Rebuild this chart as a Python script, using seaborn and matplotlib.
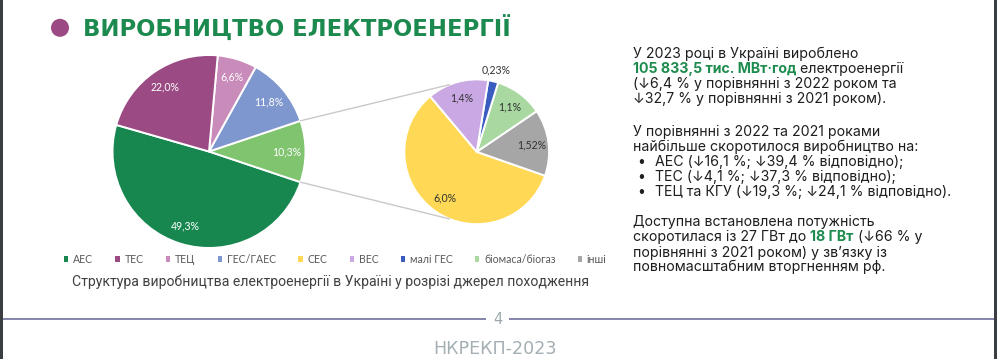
import matplotlib
matplotlib.use("Agg")
import numpy as np
import pandas as pd
import matplotlib.pyplot as plt
import seaborn as sns
from matplotlib.patches import ConnectionPatch, Circle, Rectangle, Patch

sns.set_theme(style="white")
plt.rcParams['font.family'] = ['DejaVu Sans']

# ---------------- data ----------------
main_labels = ["АЕС", "інші ВДЕ", "ГЕС/ГАЕС", "ТЕЦ", "ТЕС"]
main_values = [49.3, 10.3, 11.8, 6.6, 22.0]
main_text = ["49,3%", "10,3%", "11,8%", "6,6%", "22,0%"]

sub_labels = ["СЕС", "інші", "біомаса/біогаз", "малі ГЕС", "ВЕС"]
sub_values = [6.0, 1.52, 1.1, 0.23, 1.4]
sub_text = ["6,0%", "1,52%", "1,1%", "0,23%", "1,4%"]

legend_order = ["АЕС", "ТЕС", "ТЕЦ", "ГЕС/ГАЕС", "СЕС", "ВЕС", "малі ГЕС",
                "біомаса/біогаз", "інші"]

palette = {
    "АЕС": "#17874f", "ТЕС": "#9b4a83", "ТЕЦ": "#c98bba", "ГЕС/ГАЕС": "#7f97cf",
    "інші ВДЕ": "#80c46f", "СЕС": "#ffd955", "ВЕС": "#caa8e4", "малі ГЕС": "#3a5cbf",
    "біомаса/біогаз": "#a9d9a1", "інші": "#a6a6a6",
}

W, H = 997, 359
fig = plt.figure(figsize=(W / 100, H / 100), dpi=100)
fig.patch.set_facecolor("white")

# background axes in pixel coordinates
bg = fig.add_axes([0, 0, 1, 1])
bg.set_xlim(0, W)
bg.set_ylim(H, 0)
bg.axis("off")


def px_axes(cx, cy, r):
    return fig.add_axes([(cx - r) / W, (H - cy - r) / H, 2 * r / W, 2 * r / H])


label_font = ['Lato', 'DejaVu Sans']

# ---------------- main pie ----------------
ax1 = px_axes(209, 151.5, 96.5)
wedges1, _ = ax1.pie(main_values, colors=[palette[l] for l in main_labels],
                     startangle=164, counterclock=True,
                     wedgeprops=dict(edgecolor="white", linewidth=1.4))
ax1.set_xlim(-1, 1); ax1.set_ylim(-1, 1); ax1.set_aspect("equal")
for w, t in zip(wedges1, main_text):
    mid = np.deg2rad((w.theta1 + w.theta2) / 2)
    ax1.text(0.81 * np.cos(mid), 0.81 * np.sin(mid), t, ha="center", va="center",
             color="white", fontsize=7.6, family=label_font)

# ---------------- sub pie ----------------
ax2 = px_axes(476.7, 151.8, 72.4)
wedges2, _ = ax2.pie(sub_values, colors=[palette[l] for l in sub_labels],
                     startangle=130, counterclock=True,
                     wedgeprops=dict(edgecolor="white", linewidth=1.4))
ax2.set_xlim(-1, 1); ax2.set_ylim(-1, 1); ax2.set_aspect("equal")
for w, t, v in zip(wedges2, sub_text, sub_values):
    mid = np.deg2rad((w.theta1 + w.theta2) / 2)
    rr = 1.16 if v < 0.5 else 0.77
    ax2.text(rr * np.cos(mid), rr * np.sin(mid), t, ha="center", va="center",
             color="#333333", fontsize=7.6, family=label_font)

# connector lines
ow = wedges1[1]
for th_main, th_sub in [(ow.theta2, 112), (ow.theta1, -112)]:
    a = np.deg2rad(th_main); b = np.deg2rad(th_sub)
    con = ConnectionPatch(xyA=(np.cos(a), np.sin(a)), coordsA=ax1.transData,
                          xyB=(np.cos(b), np.sin(b)), coordsB=ax2.transData,
                          color="#c9c9c9", lw=1.0)
    fig.add_artist(con)

# legend
handles = [Patch(facecolor=palette[l], edgecolor="none") for l in legend_order]
fig.legend(handles, legend_order, loc="center left",
           bbox_to_anchor=(64 / W, 1 - 259.5 / H), ncol=9, frameon=False,
           handlelength=0.42, handleheight=0.42, handletextpad=0.45,
           columnspacing=2.1, borderpad=0, borderaxespad=0,
           prop=dict(family=label_font, size=7.6), labelcolor="#595959")

# caption
bg.text(331, 282, "Структура виробництва електроенергії в Україні у розрізі джерел походження",
        ha="center", va="center", fontsize=10.1, family=['Roboto', 'DejaVu Sans'],
        color="#404040")

# ---------------- title ----------------
bg.add_patch(Circle((60, 27.8), 9, color="#9b4a83", lw=0))
bg.text(83, 37.3, "ВИРОБНИЦТВО ЕЛЕКТРОЕНЕРГІЇ", ha="left", va="baseline",
        fontsize=16.4, fontweight="bold", color="#1c8a4e",
        family=['DejaVu Sans'])

# ---------------- right text ----------------
tf = ['Inter', 'DejaVu Sans']
fs = 10.2
dark = "#1e1e1e"
green = "#1f8c4f"
x0 = 633


def line(y, s, x=x0, **kw):
    return bg.text(x, y, s, ha="left", va="baseline", fontsize=fs, family=tf,
                   color=kw.pop("color", dark), **kw)


def cont(prev, s, **kw):
    return bg.annotate(s, xy=(1, 0), xycoords=prev, ha="left", va="bottom",
                       fontsize=fs, family=tf, color=kw.pop("color", dark), **kw)


line(57.7, "У 2023 році в Україні вироблено")
t = line(72.7, "105 833,5 тис. МВт·год", color=green, fontweight="bold")
cont(t, " електроенергії")
line(87.7, "(↓6,4 % у порівнянні з 2022 роком та")
line(102.7, "↓32,7 % у порівнянні з 2021 роком).")

line(136, "У порівнянні з 2022 та 2021 роками")
line(151, "найбільше скоротилося виробництво на:")
bullets = ["АЕС (↓16,1 %; ↓39,4 % відповідно);",
           "ТЕС (↓4,1 %; ↓37,3 % відповідно);",
           "ТЕЦ та КГУ (↓19,3 %; ↓24,1 % відповідно)."]
for i, b in enumerate(bullets):
    y = 165.8 + 15 * i
    line(y, "•", x=637.5)
    line(y, b, x=655)

line(226, "Доступна встановлена потужність")
t = line(241, "скоротилася із 27 ГВт до ")
t2 = cont(t, "18 ГВт", color=green, fontweight="bold")
cont(t2, " (↓66 % у")
line(256.5, "порівнянні з 2021 роком) у зв’язку із")
line(271.5, "повномасштабним вторгненням рф.")

# ---------------- footer ----------------
bg.plot([3, 486], [319.3, 319.3], color="#7c7ca6", lw=1.3, solid_capstyle="butt")
bg.plot([509, 994], [319.3, 319.3], color="#7c7ca6", lw=1.3, solid_capstyle="butt")
bg.text(497.5, 319.3, "4", ha="center", va="center", fontsize=10.5, color="#9ea9ad")
bg.text(495, 349, "НКРЕКП-2023", ha="center", va="center", fontsize=12.6, color="#a4afb3")

# page edges
bg.add_patch(Rectangle((0, 0), 3, H, color="#3b3e40", lw=0))
bg.add_patch(Rectangle((994, 0), 3, H, color="#3b3e40", lw=0))

fig.savefig("out.png", dpi=100, facecolor="white")
